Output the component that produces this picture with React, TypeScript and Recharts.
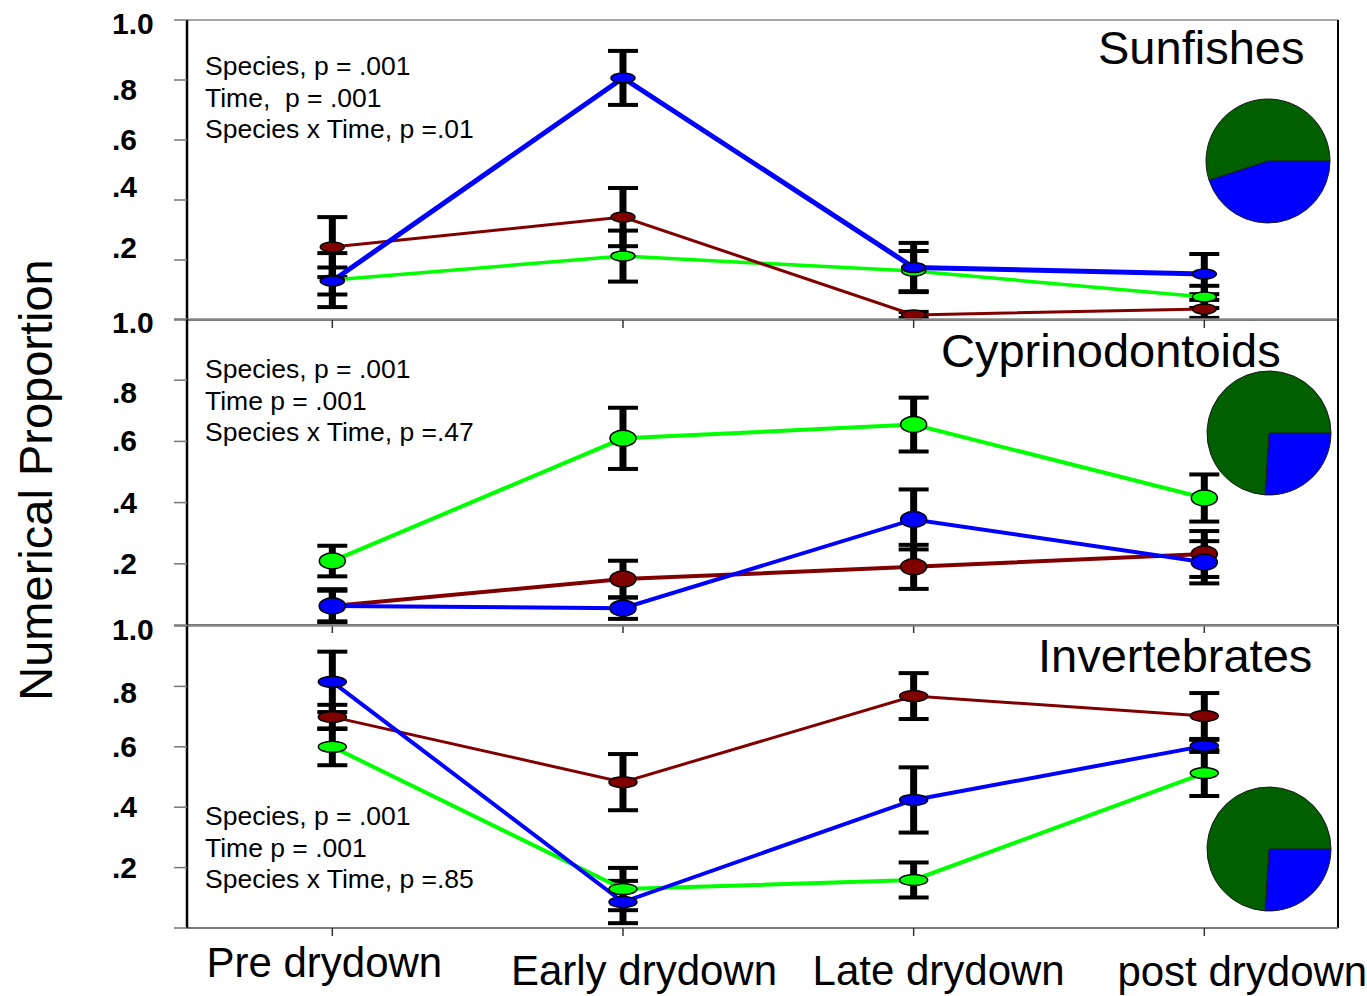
import React from "react";
import {
  LineChart,
  Line,
  XAxis,
  YAxis,
  ErrorBar,
  ReferenceLine,
  PieChart,
  Pie,
  Cell,
} from "recharts";

const categories = ["Pre drydown", "Early drydown", "Late drydown", "post drydown"];
const yTicks = [0, 0.2, 0.4, 0.6, 0.8, 1];

// Sunfishes
const sunBlue = [0.13, 0.807, 0.175, 0.153];
const sunBlueErr = [0.045, 0.09, 0.082, 0.067];
const sunRed = [0.243, 0.343, 0.017, 0.037];
const sunRedErr = [0.1, 0.097, 0.01, 0.03];
const sunGreen = [0.133, 0.213, 0.163, 0.077];
const sunGreenErr = [0.09, 0.085, 0.067, 0.037];
const sunPie = [45, 55];
const sunNotes = ["Species, p = .001", "Time,  p = .001", "Species x Time, p =.01"];

// Cyprinodontoids
const cypBlue = [0.062, 0.055, 0.345, 0.205];
const cypBlueErr = [0.055, 0.035, 0.098, 0.069];
const cypRed = [0.062, 0.15, 0.19, 0.232];
const cypRedErr = [0.05, 0.06, 0.072, 0.075];
const cypGreen = [0.209, 0.61, 0.655, 0.415];
const cypGreenErr = [0.05, 0.1, 0.088, 0.077];
const cypPie = [26, 74];
const cypNotes = ["Species, p = .001", "Time p = .001", "Species x Time, p =.47"];

// Invertebrates
const invBlue = [0.815, 0.086, 0.424, 0.603];
const invBlueErr = [0.1, 0.07, 0.108, 0.02];
const invRed = [0.699, 0.483, 0.768, 0.702];
const invRedErr = [0.04, 0.093, 0.076, 0.076];
const invGreen = [0.6, 0.129, 0.159, 0.513];
const invGreenErr = [0.061, 0.07, 0.058, 0.076];
const invPie = [26, 74];
const invNotes = ["Species, p = .001", "Time p = .001", "Species x Time, p =.85"];

const FONT = "'Liberation Sans', Arial, Helvetica, sans-serif";
const BLUE = "#0000ff";
const RED = "#800000";
const GREEN = "#00ff00";
const PIE_GREEN = "#006000";
const X_MIN = -0.5;
const X_MAX = 3.46;

const makeDot = (fill: string, rx: number, ry: number) => (p: any) => {
  if (p.cx == null || p.cy == null) return <g key={`d-${p.index}`} />;
  return (
    <ellipse
      key={`d-${p.index}`}
      cx={p.cx}
      cy={p.cy}
      rx={rx}
      ry={ry}
      fill={fill}
      stroke="#000"
      strokeWidth={1.5}
    />
  );
};

function YTick(props: any) {
  const v = props.payload?.value;
  if (v === 0) return <g />;
  const label = v === 1 ? "1.0" : `.${Math.round(v * 10)}`;
  const shift = props.shift?.[String(v)] ?? 0;
  return (
    <text
      x={112}
      y={props.y + 10 + shift}
      fontSize={30}
      fontWeight="bold"
      fontFamily={FONT}
      fill="#000"
      textAnchor="start"
    >
      {label}
    </text>
  );
}

// x label nudges, as in the original figure
const xLabelDx = [-8, 21, 25, 38];
const xLabelDy = [49, 57, 57, 58];

function XTick(props: any) {
  const i = props.payload?.value ?? 0;
  const axisY = props.y - 8;
  return (
    <text
      x={props.x + xLabelDx[i]}
      y={axisY + xLabelDy[i]}
      fontSize={42}
      fontFamily={FONT}
      fill="#000"
      textAnchor="middle"
    >
      {categories[i]}
    </text>
  );
}

function EmptyTick() {
  return <g />;
}

interface PanelCfg {
  top: number;
  height: number;
  marginTop: number;
  xAxisHeight: number;
  labels: boolean;
  blue: number[];
  blueErr: number[];
  red: number[];
  redErr: number[];
  green: number[];
  greenErr: number[];
  rx: number;
  ry: number;
  widths: { blue: number; red: number; green: number };
  shift: Record<string, number>;
}

function Panel({ cfg }: { cfg: PanelCfg }) {
  const rows = categories.map((name, i) => ({
    t: i,
    name,
    blue: cfg.blue[i],
    blueErr: cfg.blueErr[i],
    red: cfg.red[i],
    redErr: cfg.redErr[i],
    green: cfg.green[i],
    greenErr: cfg.greenErr[i],
  }));
  const colors: Record<string, string> = { blue: BLUE, red: RED, green: GREEN };
  const order = ["green", "red", "blue"] as const;
  return (
    <div style={{ position: "absolute", left: 0, top: cfg.top }}>
      <LineChart
        width={1367}
        height={cfg.height}
        data={rows}
        margin={{ top: cfg.marginTop, right: 29, bottom: 0, left: 0 }}
      >
        <XAxis
          dataKey="t"
          type="number"
          domain={[X_MIN, X_MAX]}
          ticks={[0, 1, 2, 3]}
          allowDataOverflow
          height={cfg.xAxisHeight}
          tickSize={8}
          tickMargin={0}
          axisLine={{ stroke: "#7a7a7a", strokeWidth: 2 }}
          tickLine={{ stroke: "#333", strokeWidth: 1.5 }}
          tick={cfg.labels ? <XTick /> : <EmptyTick />}
        />
        <YAxis
          type="number"
          domain={[0, 1]}
          ticks={yTicks}
          allowDataOverflow
          width={187}
          tickSize={13}
          axisLine={{ stroke: "#000", strokeWidth: 2.5 }}
          tickLine={{ stroke: "#777", strokeWidth: 1.5 }}
          tick={(p: any) => <YTick {...p} shift={cfg.shift} />}
        />
        <ReferenceLine y={1} stroke="#888" strokeWidth={1.5} />
        <ReferenceLine x={X_MAX} stroke="#000" strokeWidth={2} />
        {order.map((k) => (
          <Line
            key={`err-${k}`}
            dataKey={k}
            stroke="none"
            dot={false}
            activeDot={false}
            isAnimationActive={false}
          >
            {/* thick stem, then thinner caps */}
            <ErrorBar
              dataKey={`${k}Err`}
              direction="y"
              width={0}
              strokeWidth={7}
              stroke="#000"
              isAnimationActive={false}
            />
            <ErrorBar
              dataKey={`${k}Err`}
              direction="y"
              width={15}
              strokeWidth={4}
              stroke="#000"
              isAnimationActive={false}
            />
          </Line>
        ))}
        {order.map((k) => (
          <Line
            key={`line-${k}`}
            dataKey={k}
            stroke={colors[k]}
            strokeWidth={cfg.widths[k]}
            dot={makeDot(colors[k], cfg.rx, cfg.ry)}
            activeDot={false}
            isAnimationActive={false}
          />
        ))}
      </LineChart>
    </div>
  );
}

function CompositionPie({ shares, cx, cy }: { shares: number[]; cx: number; cy: number }) {
  const data = [
    { name: "blue", value: shares[0] },
    { name: "green", value: shares[1] },
  ];
  const size = 132;
  return (
    <div style={{ position: "absolute", left: cx - size / 2, top: cy - size / 2 }}>
      <PieChart width={size} height={size} margin={{ top: 0, right: 0, bottom: 0, left: 0 }}>
        <Pie
          data={data}
          dataKey="value"
          cx="50%"
          cy="50%"
          outerRadius={62}
          startAngle={0}
          endAngle={-360}
          stroke="#1a1a1a"
          strokeWidth={1}
          isAnimationActive={false}
        >
          <Cell fill={BLUE} />
          <Cell fill={PIE_GREEN} />
        </Pie>
      </PieChart>
    </div>
  );
}

const panels: PanelCfg[] = [
  {
    top: 0,
    height: 330,
    marginTop: 20,
    xAxisHeight: 10,
    labels: false,
    blue: sunBlue,
    blueErr: sunBlueErr,
    red: sunRed,
    redErr: sunRedErr,
    green: sunGreen,
    greenErr: sunGreenErr,
    rx: 12,
    ry: 5,
    widths: { blue: 5, red: 3, green: 3.5 },
    shift: { "1": 4, "0.8": 10, "0.4": -13, "0.2": -12 },
  },
  {
    top: 300,
    height: 335,
    marginTop: 19,
    xAxisHeight: 10,
    labels: false,
    blue: cypBlue,
    blueErr: cypBlueErr,
    red: cypRed,
    redErr: cypRedErr,
    green: cypGreen,
    greenErr: cypGreenErr,
    rx: 13,
    ry: 8,
    widths: { blue: 4, red: 4, green: 4 },
    shift: { "1": 4, "0.8": 13 },
  },
  {
    top: 600,
    height: 396,
    marginTop: 26,
    xAxisHeight: 68,
    labels: true,
    blue: invBlue,
    blueErr: invBlueErr,
    red: invRed,
    redErr: invRedErr,
    green: invGreen,
    greenErr: invGreenErr,
    rx: 14,
    ry: 5.5,
    widths: { blue: 4, red: 3, green: 4 },
    shift: { "1": 4, "0.8": 7 },
  },
];

function Notes({ lines, x, y }: { lines: string[]; x: number; y: number }) {
  return (
    <>
      {lines.map((s, i) => (
        <text
          key={i}
          x={x}
          y={y + i * 31.5}
          fontSize={26.5}
          fontFamily={FONT}
          fill="#000"
          style={{ whiteSpace: "pre" }}
        >
          {s}
        </text>
      ))}
    </>
  );
}

export default function App() {
  return (
    <div
      style={{
        position: "absolute",
        left: 0,
        top: 0,
        width: 1367,
        height: 996,
        background: "#fff",
        fontFamily: FONT,
        overflow: "hidden",
      }}
    >
      {panels.map((p, i) => (
        <Panel key={i} cfg={p} />
      ))}
      <CompositionPie shares={sunPie} cx={1268} cy={161} />
      <CompositionPie shares={cypPie} cx={1269} cy={433} />
      <CompositionPie shares={invPie} cx={1269} cy={849} />
      <svg
        width={1367}
        height={996}
        style={{ position: "absolute", left: 0, top: 0, pointerEvents: "none" }}
      >
        <text
          transform="translate(52, 480) rotate(-90)"
          textAnchor="middle"
          fontSize={47}
          fontFamily={FONT}
          fill="#000"
        >
          Numerical Proportion
        </text>
        <text x={1098} y={64} fontSize={47} fontFamily={FONT} fill="#000">
          Sunfishes
        </text>
        <text x={941} y={367} fontSize={47} fontFamily={FONT} fill="#000">
          Cyprinodontoids
        </text>
        <text x={1038} y={672} fontSize={47} fontFamily={FONT} fill="#000">
          Invertebrates
        </text>
        <Notes lines={sunNotes} x={205} y={75} />
        <Notes lines={cypNotes} x={205} y={378} />
        <Notes lines={invNotes} x={205} y={825} />
      </svg>
    </div>
  );
}
